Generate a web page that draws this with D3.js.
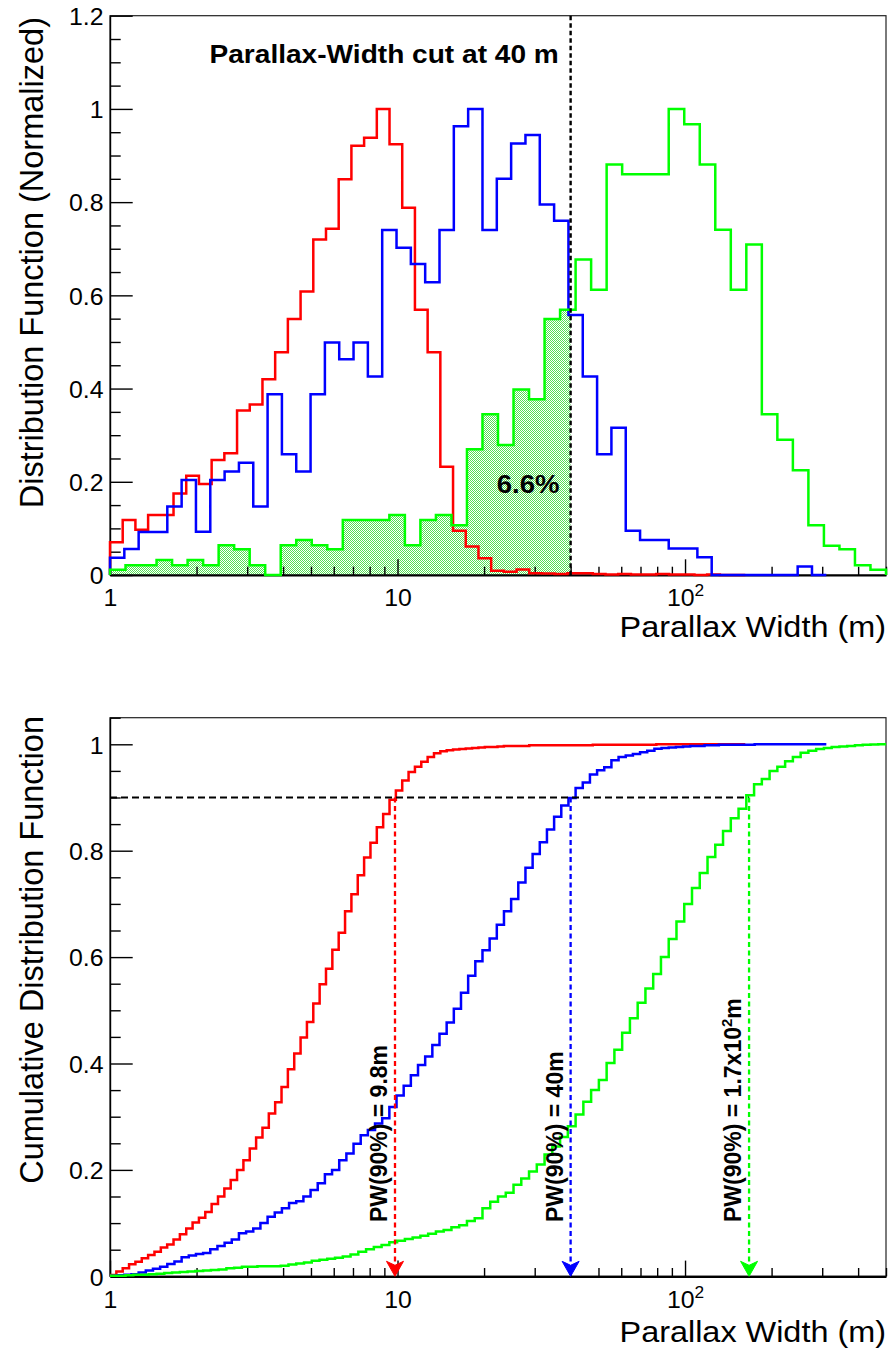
<!DOCTYPE html>
<html>
<head>
<meta charset="utf-8">
<script src="https://cdn.jsdelivr.net/npm/d3@7"></script>
<style>
  body { margin: 0; background: #fff; }
  svg { display: block; }
</style>
</head>
<body>
<svg id="chart" width="891" height="1350"></svg>
<script>
// ---- data ----
var xDomain = [1, 500];
var redRange = [1, 162], blueRange = [1, 310], greenRange = [1, 500];
var cutWidth = 40;            // m
var pw90 = { red: 9.8, blue: 40, green: 167 };
var cdfLevel = 0.9;

// normalized histograms, 50 log bins each
var redHist = [0.070,0.118,0.097,0.129,0.129,0.175,0.213,0.195,0.247,0.261,
  0.353,0.366,0.420,0.478,0.549,0.608,0.720,0.743,0.849,0.921,
  0.938,1.000,0.924,0.788,0.569,0.478,0.232,0.095,0.061,0.036,
  0.009,0.007,0.012,0.004,0.003,0.002,0.004,0.004,0.002,0.001,
  0.002,0.001,0.001,0.002,0.001,0.001,0,0.001,0,0];
var blueHist = [0.037,0.056,0.092,0.092,0.147,0.204,0.093,0.204,0.222,0.241,
  0.147,0.388,0.259,0.222,0.388,0.499,0.463,0.499,0.426,0.740,
  0.702,0.667,0.628,0.740,0.963,1.000,0.740,0.850,0.926,0.944,
  0.795,0.760,0.558,0.426,0.259,0.316,0.095,0.075,0.075,0.057,
  0.057,0.038,0,0,0,0,0,0,0.018,0];
var greenHist = [0.011,0.021,0.021,0.032,0.021,0.032,0.021,0.064,0.055,0.021,
  0,0.064,0.075,0.064,0.055,0.118,0.118,0.118,0.129,0.064,
  0.118,0.129,0.107,0.270,0.345,0.279,0.398,0.377,0.549,0.569,
  0.677,0.612,0.881,0.860,0.860,0.860,1.000,0.967,0.881,0.741,
  0.612,0.709,0.345,0.290,0.225,0.107,0.063,0.055,0.021,0.011];

// cumulative distributions, 100 log bins each
var redCdf = [0.0025,0.009,0.015,0.0225,0.0275,0.034,0.040,0.046,0.054,0.060,
  0.069,0.079,0.090,0.101,0.110,0.121,0.136,0.150,0.165,0.181,
  0.200,0.218,0.240,0.261,0.279,0.306,0.327,0.356,0.389,0.419,
  0.449,0.478,0.513,0.549,0.578,0.614,0.646,0.686,0.718,0.754,
  0.787,0.815,0.844,0.869,0.896,0.913,0.932,0.948,0.958,0.967,
  0.976,0.983,0.987,0.989,0.990,0.991,0.992,0.993,0.994,0.995,
  0.995,0.996,0.997,0.997,0.997,0.997,0.998,0.998,0.998,0.998,
  0.998,0.998,0.998,0.998,0.998,0.998,0.999,0.999,0.999,0.999,
  0.999,0.999,0.999,0.999,0.999,0.999,1,1,1,1,
  1,1,1,1,1,1,1,1,1,1];
var blueCdf = [0.001,0.002,0.003,0.004,0.007,0.011,0.014,0.018,0.023,0.028,
  0.036,0.039,0.042,0.044,0.051,0.057,0.063,0.069,0.081,0.084,
  0.090,0.100,0.112,0.120,0.128,0.138,0.141,0.150,0.162,0.175,
  0.192,0.200,0.218,0.231,0.249,0.265,0.275,0.287,0.297,0.318,
  0.340,0.358,0.378,0.397,0.413,0.435,0.456,0.477,0.503,0.533,
  0.565,0.592,0.613,0.635,0.661,0.686,0.709,0.740,0.768,0.794,
  0.816,0.840,0.864,0.885,0.899,0.918,0.928,0.943,0.951,0.957,
  0.970,0.976,0.979,0.982,0.985,0.988,0.9915,0.993,0.994,0.995,
  0.996,0.997,0.997,0.998,0.998,0.999,0.999,0.999,0.999,0.999,
  1,1,1,1,1,1,1,1,1,1];
var greenCdf = [0.001,0.001,0.002,0.003,0.003,0.004,0.005,0.006,0.007,0.008,
  0.009,0.010,0.011,0.012,0.013,0.015,0.016,0.018,0.018,0.019,
  0.019,0.019,0.020,0.022,0.024,0.026,0.029,0.031,0.033,0.035,
  0.037,0.041,0.046,0.051,0.055,0.059,0.064,0.067,0.070,0.073,
  0.076,0.080,0.084,0.087,0.092,0.096,0.104,0.109,0.128,0.140,
  0.150,0.157,0.172,0.184,0.197,0.210,0.229,0.244,0.262,0.282,
  0.304,0.328,0.350,0.369,0.401,0.426,0.458,0.485,0.514,0.541,
  0.568,0.600,0.634,0.667,0.700,0.730,0.758,0.788,0.811,0.837,
  0.861,0.879,0.904,0.925,0.935,0.950,0.958,0.968,0.976,0.984,
  0.988,0.991,0.993,0.995,0.996,0.997,0.998,0.999,0.9995,1.0];

var xMajors = [1, 10, 100];
var xMinors = [2,3,4,5,6,7,8,9,20,30,40,50,60,70,80,90,200,300,400,500];
var topYMajors = [0, 0.2, 0.4, 0.6, 0.8, 1, 1.2];
var botYMajors = [0, 0.2, 0.4, 0.6, 0.8, 1];

// ---- setup ----
var svg = d3.select("#chart");
var FONT = "'Liberation Sans', Arial, Helvetica, sans-serif";
var SX = 1.08;   // the picture's text is a little wider than the font

var x = d3.scaleLog().domain(xDomain).range([110, 886]);
var yTop = d3.scaleLinear().domain([0, 1.2]).range([575, 15.7]);
var yBot = d3.scaleLinear().domain([0, 1.05]).range([1276.3, 717.7]);

function logEdges(range, n) {
  var a = Math.log10(range[0]), b = Math.log10(range[1]);
  return d3.range(n + 1).map(function (i) { return Math.pow(10, a + (b - a) * i / n); });
}

function stretch(sel) {
  sel.each(function () {
    var L = this.getComputedTextLength();
    d3.select(this).attr("textLength", L * SX).attr("lengthAdjust", "spacingAndGlyphs");
  });
}

// points for a step outline, closed to zero at both ends when asked
function stepPoints(edges, vals, close) {
  var pts = [];
  if (close) pts.push([edges[0], 0]);
  vals.forEach(function (v, i) { pts.push([edges[i], v]); });
  pts.push([edges[vals.length], vals[vals.length - 1]]);
  if (close) pts.push([edges[vals.length], 0]);
  return pts;
}

var defs = svg.append("defs");
var pat = defs.append("pattern").attr("id", "dots")
  .attr("patternUnits", "userSpaceOnUse").attr("width", 2).attr("height", 2);
pat.append("rect").attr("width", 2).attr("height", 2).attr("fill", "#ffffff");
pat.append("rect").attr("width", 1).attr("height", 1).attr("fill", "#55e055");
pat.append("rect").attr("x", 1).attr("y", 1).attr("width", 1).attr("height", 1).attr("fill", "#55e055");

defs.append("clipPath").attr("id", "cutClip").append("rect")
  .attr("x", x(1)).attr("y", yTop(1.2))
  .attr("width", x(cutWidth) - x(1)).attr("height", yTop(0) - yTop(1.2));

function drawAxes(y, majors, fmt, labelBase) {
  var g = svg.append("g");
  // frame
  g.append("rect").attr("x", x.range()[0]).attr("y", y.range()[1])
    .attr("width", x.range()[1] - x.range()[0]).attr("height", y.range()[0] - y.range()[1])
    .attr("fill", "none").attr("stroke", "#222").attr("stroke-width", 1.2);

  var ymax = y.domain()[1];
  var yMinors = d3.range(0, ymax + 1e-9, 0.05).filter(function (v) {
    return Math.abs(v * 5 - Math.round(v * 5)) > 1e-6;
  });

  var ax = g.append("g").attr("transform", "translate(" + x.range()[0] + ",0)")
    .call(d3.axisLeft(y).tickValues(majors).tickSize(-22.7).tickPadding(6.5)
      .tickSizeOuter(0).tickFormat(fmt));
  ax.select(".domain").attr("stroke", "#000").attr("stroke-width", 1.4);
  ax.selectAll(".tick line").attr("stroke", "#000").attr("stroke-width", 1.4);
  ax.selectAll("text").attr("font-family", FONT).attr("font-size", 23)
    .attr("fill", "#000").attr("dy", "0.38em").call(stretch);

  var axm = g.append("g").attr("transform", "translate(" + x.range()[0] + ",0)")
    .call(d3.axisLeft(y).tickValues(yMinors).tickSize(-10.7).tickFormat(""));
  axm.select(".domain").remove();
  axm.selectAll(".tick line").attr("stroke", "#000").attr("stroke-width", 1.4);

  var bx = g.append("g").attr("transform", "translate(0," + y.range()[0] + ")")
    .call(d3.axisBottom(x).tickValues(xMajors).tickSize(-15.7).tickPadding(0)
      .tickSizeOuter(0).tickFormat(function (d) { return d === 100 ? "" : String(d); }));
  bx.select(".domain").attr("stroke", "#000").attr("stroke-width", 2.2);
  bx.selectAll(".tick line").attr("stroke", "#000").attr("stroke-width", 1.4);
  bx.selectAll("text").attr("font-family", FONT).attr("font-size", 23).attr("fill", "#000")
    .attr("y", labelBase).attr("dy", 0);
  bx.selectAll(".tick text").filter(function (d) { return d === 100; })
    .each(function () {
      var t = d3.select(this);
      t.append("tspan").text("10");
      t.append("tspan").attr("font-size", 16).attr("dy", -10).text("2");
    });
  bx.selectAll("text").call(stretch);

  var bxm = g.append("g").attr("transform", "translate(0," + y.range()[0] + ")")
    .call(d3.axisBottom(x).tickValues(xMinors).tickSize(-8.3).tickFormat(""));
  bxm.select(".domain").remove();
  bxm.selectAll(".tick line").attr("stroke", "#000").attr("stroke-width", 1.4);
}

function fmtTick(d) { return d === 0 ? "0" : (d === 1 ? "1" : d.toFixed(1)); }

// ---- top panel: normalized distributions ----
var line = d3.line().curve(d3.curveStepAfter);

var redEdges50 = logEdges(redRange, redHist.length);
var blueEdges50 = logEdges(blueRange, blueHist.length);
var greenEdges50 = logEdges(greenRange, greenHist.length);

var topLine = function (edges, vals) {
  return line(stepPoints(edges, vals, true).map(function (p) { return [x(p[0]), yTop(p[1])]; }));
};

// shaded part of the green curve below the cut
svg.append("path").attr("d", topLine(greenEdges50, greenHist))
  .attr("fill", "url(#dots)").attr("stroke", "none").attr("clip-path", "url(#cutClip)");

drawAxes(yTop, topYMajors, fmtTick, 31);

[[redEdges50, redHist, "#ff0000"], [blueEdges50, blueHist, "#0000ff"], [greenEdges50, greenHist, "#00ff00"]]
  .forEach(function (s) {
    svg.append("path").attr("d", topLine(s[0], s[1]))
      .attr("fill", "none").attr("stroke", s[2]).attr("stroke-width", 2.5)
      .attr("stroke-linejoin", "miter");
  });

svg.append("line")
  .attr("x1", x(cutWidth)).attr("x2", x(cutWidth))
  .attr("y1", yTop(1.2)).attr("y2", yTop(0))
  .attr("stroke", "#000").attr("stroke-width", 2.4).attr("stroke-dasharray", "4.5,3");

svg.append("text").attr("x", 209.5).attr("y", 62.7)
  .attr("font-family", FONT).attr("font-size", 26).attr("font-weight", "bold")
  .text("Parallax-Width cut at 40 m").call(stretch);

svg.append("text").attr("x", 496.7).attr("y", 492.7)
  .attr("font-family", FONT).attr("font-size", 25.5).attr("font-weight", "bold")
  .text("6.6%").call(stretch);

svg.append("text").attr("transform", "translate(43,17) rotate(-90)")
  .attr("text-anchor", "end").attr("font-family", FONT).attr("font-size", 32.5)
  .text("Distribution Function (Normalized)");

svg.append("text").attr("x", 886).attr("y", 637).attr("text-anchor", "end")
  .attr("font-family", FONT).attr("font-size", 30)
  .text("Parallax Width (m)").call(stretch);

// ---- bottom panel: cumulative distributions ----
drawAxes(yBot, botYMajors, fmtTick, 32);

var botLine = function (edges, vals) {
  return line(stepPoints(edges, vals, false).map(function (p) { return [x(p[0]), yBot(p[1])]; }));
};

[[redRange, redCdf, "#ff0000"], [blueRange, blueCdf, "#0000ff"], [greenRange, greenCdf, "#00ff00"]]
  .forEach(function (s) {
    svg.append("path").attr("d", botLine(logEdges(s[0], s[1].length), s[1]))
      .attr("fill", "none").attr("stroke", s[2]).attr("stroke-width", 2.5);
  });

svg.append("line")
  .attr("x1", x(1)).attr("x2", x(pw90.green))
  .attr("y1", yBot(cdfLevel)).attr("y2", yBot(cdfLevel))
  .attr("stroke", "#000").attr("stroke-width", 2.2).attr("stroke-dasharray", "7,4");

var markers = [
  { v: pw90.red, color: "#ff0000", label: ["PW(90%) = 9.8m"] },
  { v: pw90.blue, color: "#0000ff", label: ["PW(90%) = 40m"] },
  { v: pw90.green, color: "#00ff00", label: ["PW(90%) = 1.7x10", "2", "m"] }
];

markers.forEach(function (m) {
  var px = x(m.v);
  svg.append("line")
    .attr("x1", px).attr("x2", px)
    .attr("y1", yBot(cdfLevel)).attr("y2", yBot(0) - 12)
    .attr("stroke", m.color).attr("stroke-width", 2.3).attr("stroke-dasharray", "5,3.5");
  svg.append("path")
    .attr("transform", "translate(" + px + "," + yBot(0) + ")")
    .attr("d", "M0,0 L-8.5,-15 L0,-11 L8.5,-15 Z")
    .attr("fill", m.color).attr("stroke", m.color).attr("stroke-width", 1);

  var t = svg.append("text")
    .attr("transform", "translate(" + (px - 8) + ",1222) rotate(-90)")
    .attr("font-family", FONT).attr("font-size", 23).attr("font-weight", "bold");
  t.append("tspan").text(m.label[0]);
  if (m.label.length > 1) {
    t.append("tspan").attr("font-size", 15).attr("dy", -9).text(m.label[1]);
    t.append("tspan").attr("dy", 9).text(m.label[2]);
  }
});

svg.append("text").attr("transform", "translate(43,716) rotate(-90)")
  .attr("text-anchor", "end").attr("font-family", FONT).attr("font-size", 32.5)
  .text("Cumulative Distribution Function");

svg.append("text").attr("x", 886).attr("y", 1342).attr("text-anchor", "end")
  .attr("font-family", FONT).attr("font-size", 30)
  .text("Parallax Width (m)").call(stretch);
</script>
</body>
</html>
